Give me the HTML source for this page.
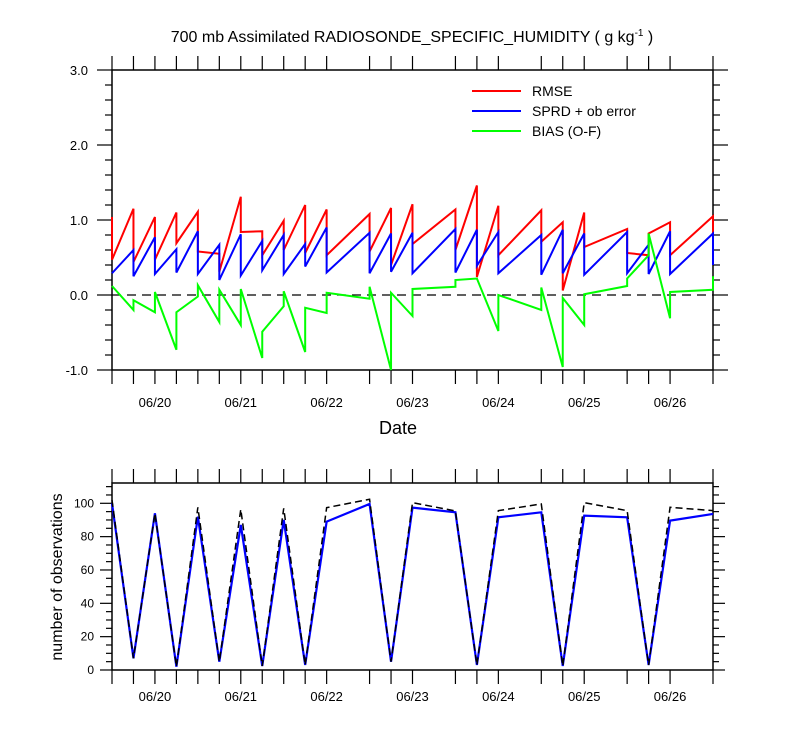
<!DOCTYPE html>
<html><head><meta charset="utf-8"><style>
body{margin:0;background:#fff;width:800px;height:750px;overflow:hidden}
svg text{font-family:"Liberation Sans",Arial,sans-serif;fill:#000}
</style></head><body>
<svg id="chart" width="800" height="750" xmlns="http://www.w3.org/2000/svg">
<text x="412" y="42" font-size="16" text-anchor="middle">700 mb Assimilated RADIOSONDE_SPECIFIC_HUMIDITY ( g kg<tspan dy="-6" font-size="10">-1</tspan><tspan dy="6"> )</tspan></text>
<g id="topPanel"></g>
<g id="botPanel"></g>
<text x="398" y="434" font-size="18" text-anchor="middle">Date</text>
<text transform="translate(62,577) rotate(-90)" font-size="16" text-anchor="middle">number of observations</text>
<g>
<line x1="472" y1="91" x2="521" y2="91" stroke="#f00" stroke-width="2"/>
<text x="532" y="96" font-size="14">RMSE</text>
<line x1="472" y1="111" x2="521" y2="111" stroke="#00f" stroke-width="2"/>
<text x="532" y="116" font-size="14">SPRD + ob error</text>
<line x1="472" y1="131" x2="521" y2="131" stroke="#0f0" stroke-width="2"/>
<text x="532" y="136" font-size="14">BIAS (O-F)</text>
</g>
</svg>
<script>
const times=[0,1,2,3,4,5,6,7,8,9,10,12,13,14,16,17,18,20,21,22,24,25,26,28];
const rmseGuess=[1.04,1.15,1.04,1.10,1.11,0.55,1.31,0.85,0.99,1.20,1.14,1.08,1.16,1.21,1.14,1.46,1.19,1.13,0.97,1.10,0.88,0.53,0.97,1.05];
const rmseAnal=[0.47,0.44,0.47,0.69,0.58,0.31,0.84,0.53,0.60,0.56,0.53,0.58,0.40,0.68,0.60,0.24,0.53,0.71,0.06,0.64,0.56,0.82,0.53,0.55];
const sprdGuess=[0.29,0.60,0.77,0.61,0.85,0.67,0.81,0.72,0.80,0.68,0.90,0.83,0.82,0.83,0.88,0.87,0.84,0.80,0.87,0.82,0.84,0.67,0.85,0.82];
const sprdAnal=[0.29,0.25,0.28,0.30,0.28,0.20,0.26,0.33,0.28,0.38,0.30,0.29,0.31,0.29,0.30,0.39,0.29,0.27,0.29,0.27,0.29,0.28,0.28,0.40];
const biasGuess=[0.12,-0.20,-0.23,-0.73,-0.02,-0.36,-0.40,-0.84,-0.15,-0.76,-0.24,-0.05,-1.0,-0.28,0.11,0.22,-0.48,-0.20,-0.96,-0.40,0.12,0.53,-0.31,0.07];
const biasAnal=[0.12,-0.07,0.04,-0.23,0.13,0.07,0.08,-0.49,0.05,-0.17,0.03,0.11,0.03,0.08,0.20,0.22,0.00,0.10,-0.04,0.01,0.22,0.82,0.04,0.25];
const obsUsed=[100,7,94,2,92,5,87,2.4,90,3,89,99.6,5,97.4,94.6,3,91.6,94.6,2.4,92.6,91.6,3,89.6,93.6];
const obsPossible=[102,7,94,2,97.6,5,96.4,2.4,97,3,97.4,102.4,5,100.4,95.4,3,95.6,99.6,2.4,100.4,95.6,3,97.6,95.6];
const dateLabels=["06/20","06/21","06/22","06/23","06/24","06/25","06/26"];
const topTicks=["3.0","2.0","1.0","0.0","-1.0"];
const botTicks=[0,20,40,60,80,100];

const NS="http://www.w3.org/2000/svg";
const X0=112,X1=713,STEP=(X1-X0)/28;
const xk=k=>X0+k*STEP;
const yTop=v=>295-v*75;
const yBot=v=>670-v*(670-503.3)/100;
function mk(tag,attrs,parent){const e=document.createElementNS(NS,tag);for(const a in attrs)e.setAttribute(a,attrs[a]);parent.appendChild(e);return e;}
const topG=document.getElementById('topPanel'),botG=document.getElementById('botPanel');

let r=mk('rect',{x:X0,y:70,width:X1-X0,height:300,fill:'none',stroke:'#000','stroke-width':1.5},topG);


for(let v=-1;v<=3.001;v+=0.2){
  const y=yTop(v);const major=Math.abs(v-Math.round(v))<0.01;const L=major?15:7;
  mk('line',{x1:X0-L,y1:y,x2:X0,y2:y,stroke:'#000','stroke-width':1.2},topG);
  mk('line',{x1:X1,y1:y,x2:X1+L,y2:y,stroke:'#000','stroke-width':1.2},topG);
}
topTicks.forEach(t=>{const e=mk('text',{x:X0-24,y:yTop(parseFloat(t))+5,'font-size':13,'text-anchor':'end'},topG);e.textContent=t;

});
times.forEach(k=>{mk('line',{x1:xk(k),y1:56,x2:xk(k),y2:70,stroke:'#000','stroke-width':1.2},topG);mk('line',{x1:xk(k),y1:370,x2:xk(k),y2:384,stroke:'#000','stroke-width':1.2},topG);
mk('line',{x1:xk(k),y1:483,x2:xk(k),y2:469,stroke:'#000','stroke-width':1.2},botG);mk('line',{x1:xk(k),y1:670,x2:xk(k),y2:684,stroke:'#000','stroke-width':1.2},botG);});
dateLabels.forEach((d,i)=>{const x=xk(2+4*i);
 let e=mk('text',{x:x,y:407,'font-size':13,'text-anchor':'middle'},topG);e.textContent=d;
 
 
 e=mk('text',{x:x,y:701,'font-size':13,'text-anchor':'middle'},botG);e.textContent=d;
 
 });
let z=mk('line',{x1:X0,y1:yTop(0),x2:X1,y2:yTop(0),stroke:'#000','stroke-width':1.2,'stroke-dasharray':'9,6'},topG);


function saw(g,a,color,name){let d='';times.forEach((k,i)=>{d+=(i?'L':'M')+xk(k)+','+yTop(g[i])+'L'+xk(k)+','+yTop(a[i]);});
 const p=mk('path',{d:d,fill:'none',stroke:color,'stroke-width':2,'stroke-linejoin':'miter'},topG);
 
 }
saw(rmseGuess,rmseAnal,'#f00','rmse-line');
saw(sprdGuess,sprdAnal,'#00f','sprd-line');
saw(biasGuess,biasAnal,'#0f0','bias-line');

r=mk('rect',{x:X0,y:483,width:X1-X0,height:187,fill:'none',stroke:'#000','stroke-width':1.5},botG);


for(let v=0;v<=110;v+=5){const y=yBot(v);const L=(v%20===0)?12:6;
 mk('line',{x1:X0-L,y1:y,x2:X0,y2:y,stroke:'#000','stroke-width':1.2},botG);
 mk('line',{x1:X1,y1:y,x2:X1+L,y2:y,stroke:'#000','stroke-width':1.2},botG);}
botTicks.forEach(t=>{const e=mk('text',{x:X0-18,y:yBot(t)+4,'font-size':12,'text-anchor':'end'},botG);e.textContent=t;

});
function ln(vals,color,w,dash,name){const d=times.map((k,i)=>(i?'L':'M')+xk(k)+','+yBot(vals[i])).join('');
 const p=mk('path',{d:d,fill:'none',stroke:color,'stroke-width':w},botG);if(dash)p.setAttribute('stroke-dasharray',dash);
 
 }
ln(obsUsed,'#00f',2.2,null,'obs-used-line');
ln(obsPossible,'#000',1.5,'7,4','obs-possible-line');
</script>
</body></html>
